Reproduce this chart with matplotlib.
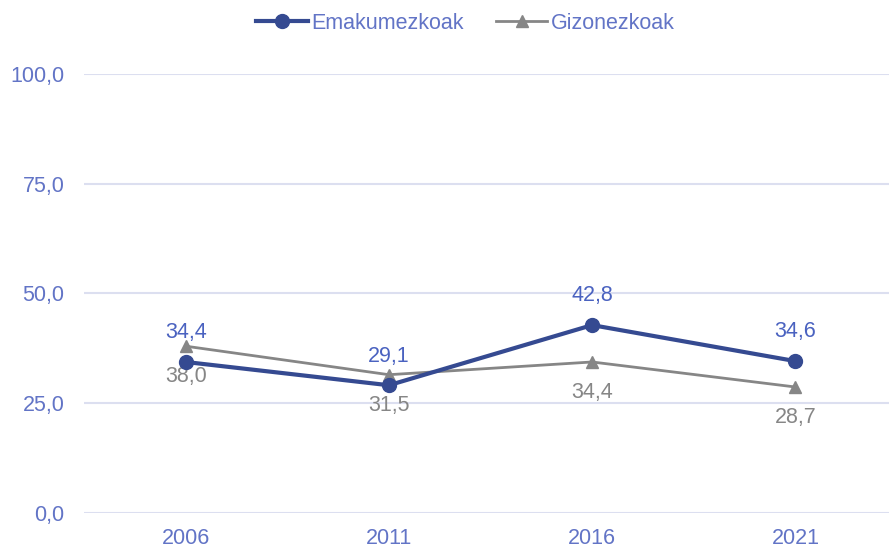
import matplotlib.pyplot as plt

plt.rcParams['font.family'] = ['Liberation Sans', 'DejaVu Sans']

years = ["2006", "2011", "2016", "2021"]
emakumezkoak = [34.4, 29.1, 42.8, 34.6]
gizonezkoak = [38.0, 31.5, 34.4, 28.7]

blue = "#354a91"
grey = "#868686"
text_blue = "#6274c6"
label_blue = "#4a62c0"
grid_col = "#dcdff0"

fig = plt.figure(figsize=(8.89, 5.49), dpi=100)
ax = fig.add_axes([0.0945, 0.0656, 0.9145, 0.7996])

x = range(len(years))
ax.plot(x, emakumezkoak, color=blue, lw=3, marker="o", ms=10,
        label="Emakumezkoak", clip_on=False, zorder=4)
ax.plot(x, gizonezkoak, color=grey, lw=2, marker="^", ms=9,
        label="Gizonezkoak", clip_on=False, zorder=3)

for i, v in enumerate(emakumezkoak):
    ax.annotate(f"{v:.1f}".replace(".", ","), (i, v), xytext=(0, 21),
                textcoords="offset points", ha="center", va="center",
                fontsize=15.5, color=label_blue)
for i, v in enumerate(gizonezkoak):
    ax.annotate(f"{v:.1f}".replace(".", ","), (i, v), xytext=(0, -22),
                textcoords="offset points", ha="center", va="center",
                fontsize=15.5, color=grey)

ax.set_xlim(-0.5, 3.5)
ax.set_ylim(0, 100)
ax.set_yticks([0, 25, 50, 75, 100])
ax.set_yticklabels([f"{t:.1f}".replace(".", ",") for t in [0, 25, 50, 75, 100]])
ax.set_xticks(list(x))
ax.set_xticklabels(years)
ax.tick_params(length=0, labelsize=15.5, colors=text_blue)
ax.tick_params(axis="y", pad=14)
ax.tick_params(axis="x", pad=11)
ax.grid(axis="y", color=grid_col, lw=1.5)
ax.set_axisbelow(True)
for s in ax.spines.values():
    s.set_visible(False)

leg = ax.legend(loc="center", bbox_to_anchor=(0.469, 1.116), ncol=2,
                frameon=False, fontsize=15.5, handlelength=2.4,
                handletextpad=0.15, columnspacing=1.5)
for t in leg.get_texts():
    t.set_color(text_blue)

fig.savefig("out.png", dpi=100)
